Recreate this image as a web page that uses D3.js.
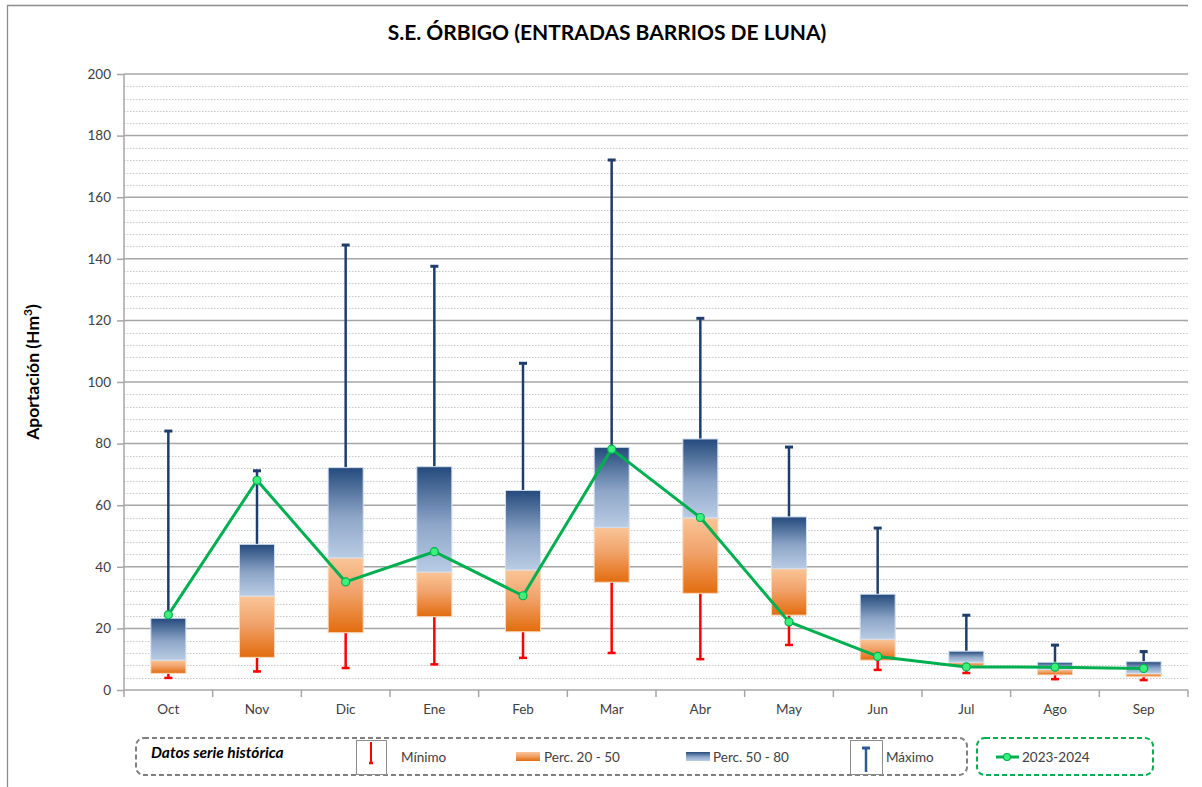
<!DOCTYPE html>
<html>
<head>
<meta charset="utf-8">
<script src="https://d3js.org/d3.v7.min.js"></script>
<style>
  body { margin: 0; background: #fff; }
  svg { font-family: Lato, "Open Sans", sans-serif; }
</style>
</head>
<body>
<svg id="vis"></svg>
<script>
  // data (Hm3)
  var months  = ['Oct','Nov','Dic','Ene','Feb','Mar','Abr','May','Jun','Jul','Ago','Sep']
  var minimo  = [3.6, 5.7, 6.8, 8.0, 10.1, 11.7, 9.7, 14.3, 6.2, 5.2, 3.2, 2.9]
  var perc20  = [5.4, 10.6, 18.6, 23.8, 18.9, 35.0, 31.4, 24.3, 9.7, 7.8, 4.9, 4.3]
  var perc50  = [9.7, 30.5, 42.9, 38.3, 39.0, 52.8, 55.9, 39.4, 16.5, 9.0, 6.7, 5.4]
  var perc80  = [23.3, 47.3, 72.2, 72.5, 64.8, 78.8, 81.5, 56.2, 31.1, 12.6, 9.0, 9.2]
  var maximo  = [84.4, 71.5, 144.8, 137.9, 106.4, 172.4, 121.0, 79.2, 52.9, 24.6, 14.9, 12.8]
  var serie   = [24.4, 68.1, 35.1, 44.9, 30.6, 78.2, 56.0, 22.1, 10.9, 7.5, 7.4, 7.0]
  var yTicks  = [0, 20, 40, 60, 80, 100, 120, 140, 160, 180, 200]

  var W = 1202, H = 787
  var margin = {top: 74, right: 14, bottom: 97, left: 124}
  var width = W - margin.left - margin.right
  var height = H - margin.top - margin.bottom

  var svg = d3.select('#vis').attr('width', W).attr('height', H)

  // outer chart frame (only top and left are visible in the crop)
  svg.append('path')
    .attr('d', 'M7.5,' + H + 'V5.5H1188')
    .attr('fill', 'none').attr('stroke', '#8c8c8c').attr('stroke-width', 1.3)

  // title
  svg.append('text')
    .attr('x', 607).attr('y', 40)
    .attr('text-anchor', 'middle')
    .attr('font-size', 21).attr('font-weight', 'bold').attr('fill', '#000')
    .text('S.E. ÓRBIGO (ENTRADAS BARRIOS DE LUNA)')

  var defs = svg.append('defs')
  var gBlue = defs.append('linearGradient').attr('id', 'gblue').attr('x1', 0).attr('y1', 0).attr('x2', 0).attr('y2', 1)
  gBlue.append('stop').attr('offset', '0%').attr('stop-color', '#244a7c')
  gBlue.append('stop').attr('offset', '55%').attr('stop-color', '#8ea6c8')
  gBlue.append('stop').attr('offset', '100%').attr('stop-color', '#b9cce4')
  var gOrange = defs.append('linearGradient').attr('id', 'gorange').attr('x1', 0).attr('y1', 0).attr('x2', 0).attr('y2', 1)
  gOrange.append('stop').attr('offset', '0%').attr('stop-color', '#fac597')
  gOrange.append('stop').attr('offset', '45%').attr('stop-color', '#f1a36c')
  gOrange.append('stop').attr('offset', '100%').attr('stop-color', '#e36c0d')

  var g = svg.append('g').attr('transform', 'translate(' + margin.left + ',' + margin.top + ')')

  var x = d3.scaleBand().domain(months).range([0, width])
  var y = d3.scaleLinear().domain([0, 200]).range([height, 0])

  // minor grid (every 4)
  g.append('g').selectAll('line')
    .data(d3.range(4, 200, 4).filter(function (v) { return v % 20 !== 0 }))
    .enter().append('line')
      .attr('x1', 0).attr('x2', width)
      .attr('y1', function (d) { return Math.round(y(d)) + 0.5 })
      .attr('y2', function (d) { return Math.round(y(d)) + 0.5 })
      .attr('stroke', '#c8c8c8').attr('stroke-width', 1)
      .attr('stroke-dasharray', '1.5,1.5')

  // major grid
  g.append('g').selectAll('line')
    .data(yTicks.slice(1))
    .enter().append('line')
      .attr('x1', 0).attr('x2', width)
      .attr('y1', function (d) { return y(d) })
      .attr('y2', function (d) { return y(d) })
      .attr('stroke', '#a6a6a6').attr('stroke-width', 1.5)

  // axes
  var yAxis = d3.axisLeft(y).tickValues(yTicks).tickSize(7).tickPadding(6)
  var ya = g.append('g').call(yAxis)
  ya.selectAll('path, line').attr('stroke', '#a6a6a6').attr('stroke-width', 1.5)
  ya.select('.domain').attr('d', 'M0,' + height + 'V0')
  ya.selectAll('text').attr('font-size', 13.5).attr('fill', '#404040')
    .attr('font-family', 'Lato, sans-serif')

  var xa = g.append('g').attr('transform', 'translate(0,' + height + ')')
  xa.append('line').attr('x1', 0).attr('x2', width)
    .attr('stroke', '#a6a6a6').attr('stroke-width', 1.5)
  xa.selectAll('.tk').data(d3.range(months.length + 1)).enter().append('line')
    .attr('x1', function (i) { return i * x.step() }).attr('x2', function (i) { return i * x.step() })
    .attr('y1', 0).attr('y2', 7)
    .attr('stroke', '#a6a6a6').attr('stroke-width', 1.5)
  xa.selectAll('text').data(months).enter().append('text')
    .attr('x', function (d) { return x(d) + x.bandwidth() / 2 })
    .attr('y', 24)
    .attr('text-anchor', 'middle').attr('font-size', 13.5).attr('fill', '#404040')
    .text(function (d) { return d })

  // y label
  svg.append('text')
    .attr('transform', 'translate(39,' + (margin.top + height / 2 - 10) + ') rotate(-90)')
    .attr('text-anchor', 'middle').attr('font-size', 17.5).attr('font-weight', 'bold')
    .html('Aportación (Hm<tspan dy="-7" font-size="12">3</tspan><tspan dy="7">)</tspan>')

  var bw = 35
  var cx = function (i) { return x(months[i]) + x.bandwidth() / 2 }
  var idx = d3.range(months.length)

  // max whiskers
  var wmax = g.append('g')
  wmax.selectAll('line.w').data(idx).enter().append('line')
    .attr('x1', cx).attr('x2', cx)
    .attr('y1', function (i) { return y(perc80[i]) })
    .attr('y2', function (i) { return y(maximo[i]) })
    .attr('stroke', '#1f3d6b').attr('stroke-width', 2.5)
  wmax.selectAll('line.c').data(idx).enter().append('line')
    .attr('x1', function (i) { return cx(i) - 4 }).attr('x2', function (i) { return cx(i) + 4 })
    .attr('y1', function (i) { return y(maximo[i]) + 1 })
    .attr('y2', function (i) { return y(maximo[i]) + 1 })
    .attr('stroke', '#1f3d6b').attr('stroke-width', 3)

  // min whiskers
  var wmin = g.append('g')
  wmin.selectAll('line.w').data(idx).enter().append('line')
    .attr('x1', cx).attr('x2', cx)
    .attr('y1', function (i) { return y(perc20[i]) })
    .attr('y2', function (i) { return y(minimo[i]) })
    .attr('stroke', '#ff0000').attr('stroke-width', 2.5)
  wmin.selectAll('line.c').data(idx).enter().append('line')
    .attr('x1', function (i) { return cx(i) - 4 }).attr('x2', function (i) { return cx(i) + 4 })
    .attr('y1', function (i) { return y(minimo[i]) - 1 })
    .attr('y2', function (i) { return y(minimo[i]) - 1 })
    .attr('stroke', '#ff0000').attr('stroke-width', 2.5)

  // boxes
  g.append('g').selectAll('rect').data(idx).enter().append('rect')
    .attr('x', function (i) { return cx(i) - bw / 2 })
    .attr('y', function (i) { return y(perc50[i]) })
    .attr('width', bw)
    .attr('height', function (i) { return y(perc20[i]) - y(perc50[i]) })
    .attr('fill', 'url(#gorange)').attr('stroke', '#fbd9bd').attr('stroke-width', 1)
  g.append('g').selectAll('rect').data(idx).enter().append('rect')
    .attr('x', function (i) { return cx(i) - bw / 2 })
    .attr('y', function (i) { return y(perc80[i]) })
    .attr('width', bw)
    .attr('height', function (i) { return y(perc50[i]) - y(perc80[i]) })
    .attr('fill', 'url(#gblue)').attr('stroke', '#d3dff0').attr('stroke-width', 1)

  // 2023-2024 line
  var line = d3.line().x(function (d, i) { return cx(i) }).y(function (d) { return y(d) })
  g.append('path').datum(serie)
    .attr('d', line).attr('fill', 'none')
    .attr('stroke', '#00b050').attr('stroke-width', 3).attr('stroke-linejoin', 'round')
  g.append('g').selectAll('circle').data(serie).enter().append('circle')
    .attr('cx', function (d, i) { return cx(i) }).attr('cy', function (d) { return y(d) })
    .attr('r', 4).attr('fill', '#3cf07a').attr('stroke', '#00b050').attr('stroke-width', 1.2)

  // legend
  var leg = svg.append('g')
  leg.append('rect').attr('x', 136).attr('y', 738).attr('width', 831).attr('height', 37)
    .attr('rx', 8).attr('fill', 'none').attr('stroke', '#7f7f7f').attr('stroke-width', 2)
    .attr('stroke-dasharray', '5,3')
  leg.append('rect').attr('x', 977).attr('y', 738).attr('width', 176).attr('height', 37)
    .attr('rx', 8).attr('fill', 'none').attr('stroke', '#00b050').attr('stroke-width', 2)
    .attr('stroke-dasharray', '5,3')
  leg.append('text').attr('x', 151).attr('y', 758)
    .attr('font-size', 15.5).attr('font-weight', 'bold').attr('font-style', 'italic')
    .text('Datos serie histórica')

  // minimo icon
  leg.append('rect').attr('x', 356.5).attr('y', 740.5).attr('width', 30).attr('height', 34)
    .attr('fill', '#fff').attr('stroke', '#8c8c8c')
  leg.append('line').attr('x1', 371).attr('x2', 371).attr('y1', 742).attr('y2', 763)
    .attr('stroke', '#ff0000').attr('stroke-width', 2)
  leg.append('line').attr('x1', 369).attr('x2', 373).attr('y1', 763).attr('y2', 763)
    .attr('stroke', '#ff0000').attr('stroke-width', 2.5)
  leg.append('text').attr('x', 401).attr('y', 762).attr('font-size', 13.5).attr('fill', '#404040').text('Mínimo')

  // percentiles
  leg.append('rect').attr('x', 516).attr('y', 752).attr('width', 24).attr('height', 9).attr('fill', 'url(#gorange)')
  leg.append('text').attr('x', 544).attr('y', 762).attr('font-size', 13.5).attr('fill', '#404040').text('Perc. 20 - 50')
  leg.append('rect').attr('x', 686).attr('y', 752).attr('width', 24).attr('height', 9).attr('fill', 'url(#gblue)')
  leg.append('text').attr('x', 713).attr('y', 762).attr('font-size', 13.5).attr('fill', '#404040').text('Perc. 50 - 80')

  // maximo icon
  leg.append('rect').attr('x', 850.5).attr('y', 740.5).attr('width', 32).attr('height', 34)
    .attr('fill', '#fff').attr('stroke', '#8c8c8c')
  leg.append('line').attr('x1', 866).attr('x2', 866).attr('y1', 747).attr('y2', 772)
    .attr('stroke', '#2e5a94').attr('stroke-width', 2.5)
  leg.append('line').attr('x1', 862).attr('x2', 870).attr('y1', 748).attr('y2', 748)
    .attr('stroke', '#2e5a94').attr('stroke-width', 3)
  leg.append('text').attr('x', 886).attr('y', 762).attr('font-size', 13.5).attr('fill', '#404040').text('Máximo')

  // series legend
  leg.append('line').attr('x1', 996).attr('x2', 1019).attr('y1', 757).attr('y2', 757)
    .attr('stroke', '#00b050').attr('stroke-width', 3)
  leg.append('circle').attr('cx', 1007).attr('cy', 757).attr('r', 3.5)
    .attr('fill', '#3cf07a').attr('stroke', '#00b050').attr('stroke-width', 1.2)
  leg.append('text').attr('x', 1022).attr('y', 762).attr('font-size', 13.5).attr('fill', '#404040').text('2023-2024')
</script>
</body>
</html>
